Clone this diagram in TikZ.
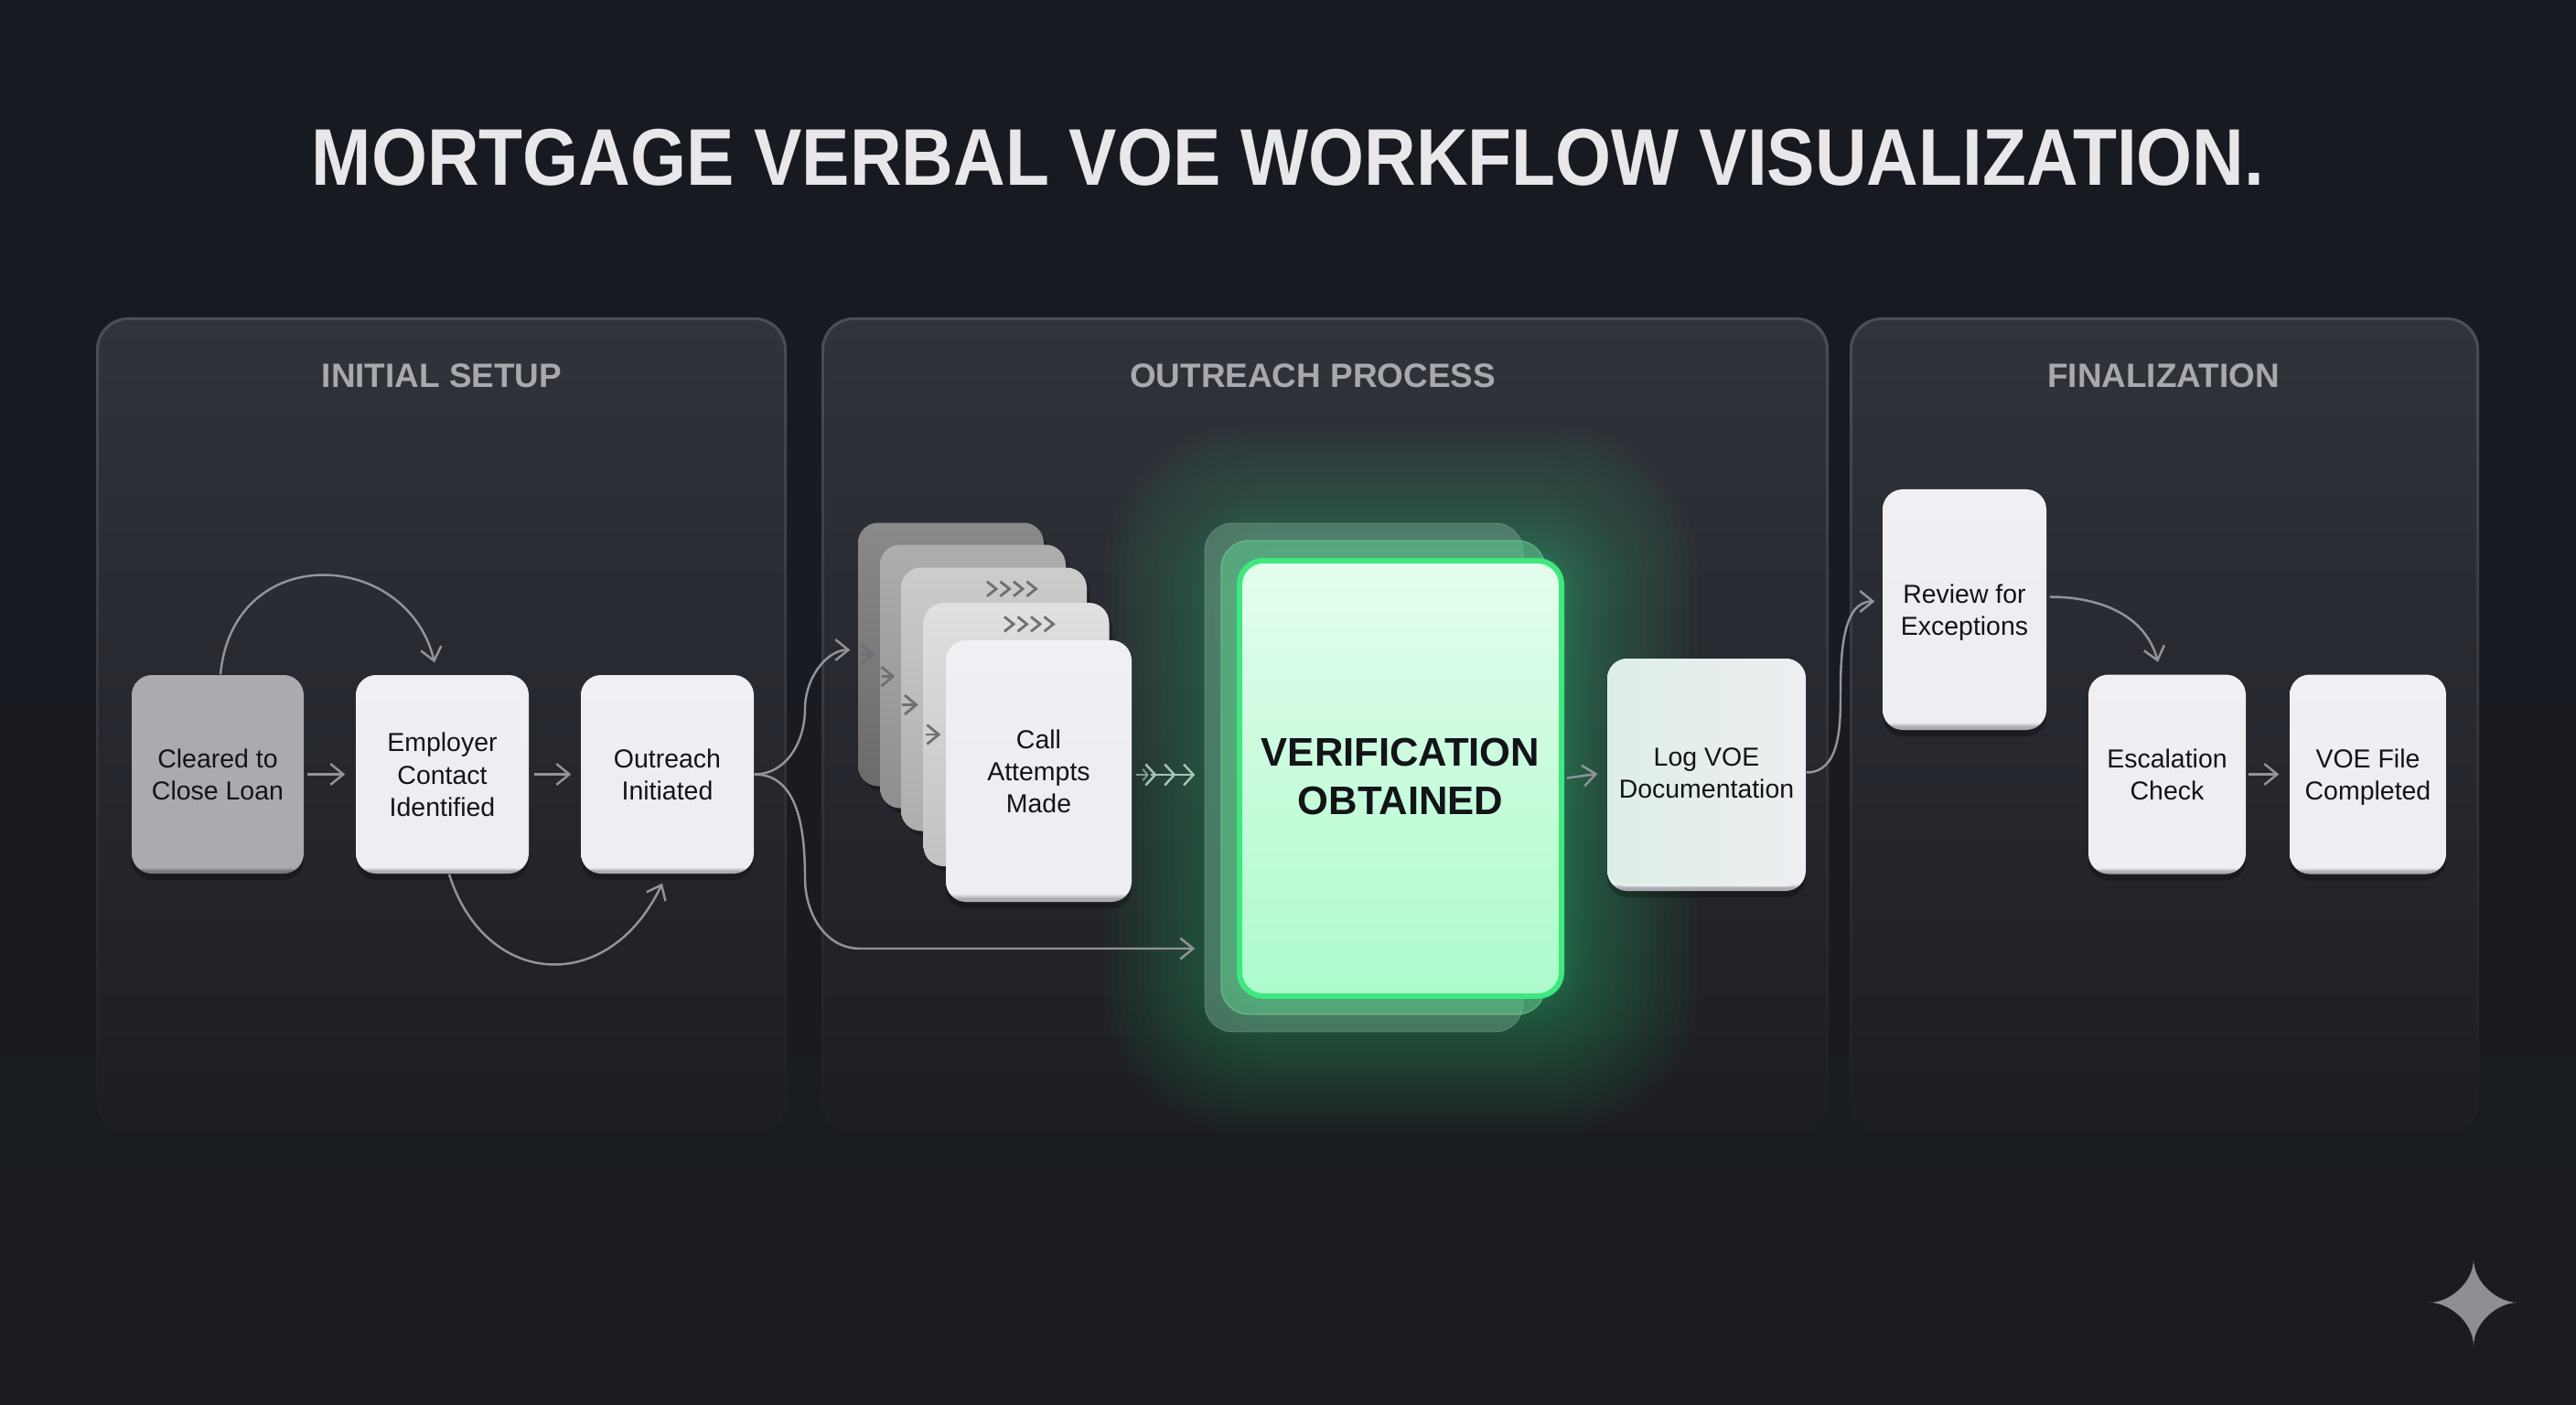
\documentclass[tikz,border=0pt]{standalone}
\usepackage{fontspec}
\setmainfont{Liberation Sans}
\usepackage{xcolor}
\usepackage{graphicx}
\usepackage{tikz}
\usetikzlibrary{arrows.meta,shadows}
\definecolor{voe@bgtop}{RGB}{23, 26, 33}
\definecolor{voe@bgend}{RGB}{26, 28, 33}
\definecolor{voe@edge}{RGB}{76, 78, 85}
\definecolor{voe@paneltop}{RGB}{49, 51, 59}
\definecolor{voe@panelend}{RGB}{28, 30, 35}
\definecolor{voe@head}{RGB}{168, 169, 173}
\definecolor{voe@title}{RGB}{232, 232, 234}
\definecolor{voe@ink}{RGB}{18, 20, 24}
\definecolor{voe@line}{RGB}{146, 148, 153}
\definecolor{voe@dark}{RGB}{110, 111, 117}
\definecolor{voe@green}{RGB}{62, 232, 126}
\definecolor{voe@glow}{RGB}{70, 210, 130}
\definecolor{voe@vtop}{RGB}{228, 253, 238}
\definecolor{voe@vend}{RGB}{172, 251, 203}
\definecolor{voe@chev}{RGB}{168, 196, 180}
\definecolor{voe@star}{RGB}{142, 143, 148}
\definecolor{voe@cardtop}{RGB}{240, 240, 244}
\definecolor{voe@cardmid}{RGB}{237, 238, 241}
\definecolor{voe@bevel}{RGB}{170, 172, 176}
\definecolor{voe@grey}{RGB}{170, 171, 175}
\definecolor{voe@greyend}{RGB}{118, 120, 124}
\definecolor{voe@logleft}{RGB}{222, 238, 231}
\pgfdeclareverticalshading{cardshade}{100bp}{color(0bp)=(voe@bevel); color(25bp)=(voe@bevel);
  color(25.7bp)=(voe@bevel); color(26.6bp)=(voe@cardmid); color(50bp)=(voe@cardmid); color(75bp)=(voe@cardtop); color(100bp)=(voe@cardtop)}
\pgfdeclareverticalshading{clearshade}{100bp}{color(0bp)=(voe@greyend); color(25bp)=(voe@greyend);
  color(25.7bp)=(voe@greyend); color(26.6bp)=(voe@grey); color(50bp)=(voe@grey); color(75bp)=(voe@grey); color(100bp)=(voe@grey)}
\newcommand{\voetop}{\rule{0pt}{8pt}}

\begin{document}
\begin{tikzpicture}[
  panel/.style  = {rectangle, rounded corners=0.35cm, inner sep=0pt, top color=voe@edge, bottom color=voe@panelend},
  inpanel/.style= {rectangle, rounded corners=0.33cm, inner sep=0pt, top color=voe@paneltop, bottom color=voe@panelend},
  head/.style   = {font=\fontsize{10.5}{13}\selectfont\bfseries, text=voe@head, inner sep=0pt},
  cardtext/.style = {align=center, font=\fontsize{8.1}{10}\selectfont, text=voe@ink, inner sep=0pt,
                   execute at end node={\rule[-2pt]{0pt}{2pt}}},
  card/.style   = {rectangle, rounded corners=0.22cm, shade, shading=cardshade, cardtext,
                   drop shadow={shadow xshift=0pt, shadow yshift=-2pt, opacity=0.25, fill=black}},
  stackc/.style = {rectangle, rounded corners=0.22cm, inner sep=0pt,
                   minimum width=2.03cm, minimum height=2.88cm,
                   drop shadow={shadow xshift=1pt, shadow yshift=-1.5pt, opacity=0.25, fill=black}},
  arr/.style    = {-{Straight Barb[length=4pt,width=6.5pt]}, voe@line, line width=0.7pt},
  darr/.style   = {-{Straight Barb[length=3.6pt,width=6pt]}, voe@dark, line width=0.8pt},
  chev/.style   = {voe@dark, line width=0.8pt},
]
  \useasboundingbox (0,0) rectangle (28.16,-15.36);
  \shade[top color=voe@bgtop, bottom color=voe@bgend] (0,0) rectangle (28.16,-15.36);

  \node[font=\fontsize{25}{30}\selectfont\bfseries, text=voe@title, inner sep=0pt] (title) at (14.08,-1.72)
       {\scalebox{0.893}[1]{MORTGAGE VERBAL VOE WORKFLOW VISUALIZATION.}};

  \node[panel, minimum width=7.55cm, minimum height=8.92cm]  (initial)  at (4.825,-7.93) {};
  \node[inpanel, minimum width=7.49cm, minimum height=8.86cm] (initiali) at (initial) {};
  \node[panel, minimum width=11.01cm, minimum height=8.92cm] (reach)    at (14.485,-7.93) {};
  \node[inpanel, minimum width=10.95cm, minimum height=8.86cm] (reachi) at (reach) {};
  \node[panel, minimum width=6.88cm, minimum height=8.92cm]  (final)    at (23.66,-7.93) {};
  \node[inpanel, minimum width=6.82cm, minimum height=8.86cm] (finali)  at (final) {};

  \node[head] (initialh) at (4.83,-4.11)  {INITIAL SETUP};
  \node[head] (reachh)   at (14.35,-4.11) {OUTREACH PROCESS};
  \node[head] (finalh)   at (23.65,-4.11) {FINALIZATION};

  % green halo
  \foreach \g in {30,...,1} {
    \pgfmathsetmacro{\gx}{1.79+1.45*(\g/30)^1.6}
    \pgfmathsetmacro{\gy}{2.41+1.45*(\g/30)^1.6}
    \pgfmathsetmacro{\gr}{0.25+1.3*(\g/30)}
    \fill[voe@glow, opacity=0.018, rounded corners=\gr cm]
      (15.31-\gx,-8.51+\gy) rectangle (15.31+\gx,-8.51-\gy);
  }

  \node[card, minimum width=1.88cm, minimum height=2.17cm, shading=clearshade] (clear) at (2.38,-8.465) {\voetop Cleared to\\Close Loan};
  \node[card, minimum width=1.89cm, minimum height=2.17cm] (employer) at (4.835,-8.465) {\voetop Employer\\Contact\\Identified};
  \node[card, minimum width=1.89cm, minimum height=2.17cm] (outreach) at (7.295,-8.465) {\voetop Outreach\\Initiated};

  \node[stackc, top color=black!46, bottom color=black!58] (call1) at (10.395,-7.155) {};
  \node[stackc, top color=black!32, bottom color=black!44] (call2) at (10.635,-7.395) {};
  \node[stackc, top color=black!20, bottom color=black!32] (call3) at (10.865,-7.645) {};
  \node[stackc, top color=black!12, bottom color=black!24] (call4) at (11.11,-8.03) {};

  \foreach \i in {0,...,3} {
    \draw[chev] ([shift={(\i*0.145-0.075,-0.16)}]call3.north) -- ++(0.1,-0.08) -- ++(-0.1,-0.08);
    \draw[chev] ([shift={(\i*0.145-0.13,-0.16)}]call4.north)  -- ++(0.1,-0.08) -- ++(-0.1,-0.08);
  }
  \node[card, minimum width=2.03cm, minimum height=2.86cm] (call) at (11.355,-8.43) {\voetop Call\\Attempts\\Made};

  \draw[darr] ([xshift=0.04cm]call1.west) -- ([xshift=-0.05cm]call1.west -| call2.west);
  \draw[darr] ([xshift=0.03cm]call2.west) -- ([xshift=-0.06cm]call2.west -| call3.west);
  \draw[darr] ([xshift=0.02cm,yshift=-0.06cm]call3.west) -- ([xshift=-0.05cm,yshift=-0.06cm]call3.west -| call4.west);
  \draw[darr] ([xshift=0.03cm]call4.west) -- ([xshift=-0.05cm]call4.west -| call.west);

  \node[rectangle, rounded corners=0.3cm, fill=voe@glow!35!voe@line, opacity=0.45, draw=white, draw opacity=0.12,
        minimum width=3.48cm, minimum height=5.56cm] (vback) at (14.91,-8.5) {};
  \node[rectangle, rounded corners=0.3cm, fill=voe@glow!70!voe@line, opacity=0.6, draw=voe@glow!50!white, draw opacity=0.35,
        minimum width=3.54cm, minimum height=5.18cm] (vmid) at (15.12,-8.5) {};
  \node[rectangle, rounded corners=0.26cm, top color=voe@vtop, bottom color=voe@vend,
        draw=voe@green, line width=1.7pt, align=center, text=voe@ink,
        font=\fontsize{12.4}{15.1}\selectfont\bfseries, execute at end node={\rule[-1pt]{0pt}{1pt}},
        minimum width=3.52cm, minimum height=4.76cm] (verif) at (15.31,-8.51) {VERIFICATION\\OBTAINED};

  \node[card, minimum width=2.17cm, minimum height=2.54cm] (logb) at (18.655,-8.47) {};
  \node[rectangle, rounded corners=0.22cm, left color=voe@logleft, right color=voe@cardmid, cardtext,
        minimum width=2.17cm, minimum height=2.49cm] (log) at (18.655,-8.445) {\voetop Log VOE\\Documentation};

  \node[card, minimum width=1.79cm, minimum height=2.63cm] (review) at (21.475,-6.665) {\voetop Review for\\Exceptions};
  \node[card, minimum width=1.72cm, minimum height=2.18cm] (escal)  at (23.69,-8.465)  {\voetop Escalation\\Check};
  \node[card, minimum width=1.71cm, minimum height=2.18cm] (file)   at (25.885,-8.465) {\voetop VOE File\\Completed};

  \draw[arr] (clear.east) -- (employer.west) [shorten <=0.03cm, shorten >=0.11cm];
  \draw[arr] (employer.east) -- (outreach.west) [shorten <=0.05cm, shorten >=0.1cm];
  \draw[arr] ([xshift=0.03cm]clear.north) .. controls (2.55,-5.9) and (4.45,-6.0) .. ([xshift=-0.085cm,yshift=0.13cm]employer.north);
  \draw[arr] ([xshift=0.075cm]employer.south) .. controls (5.3,-10.8) and (6.65,-10.9) .. ([xshift=-0.055cm,yshift=-0.1cm]outreach.south);

  \draw[arr, shorten >=0.08cm] (outreach.east) to[out=0,in=-90] (8.8,-7.75) to[out=90,in=180] ([yshift=0.05cm]call1.west);
  \draw[arr] (outreach.east) to[out=0,in=90] (8.8,-9.6) to[out=-90,in=180] (9.4,-10.37) -- ([xshift=-0.1cm,yshift=-1.87cm]vback.west);

  \coordinate (chevfrom) at ([xshift=0.18cm,yshift=0.04cm]call.east |- verif.west);
  \draw[voe@chev, opacity=0.7, line width=0.5pt, -{Straight Barb[length=1.5pt,width=3.5pt]}]
       ([xshift=0.04cm,yshift=0.04cm]call.east |- verif.west) -- (chevfrom);
  \draw[voe@chev, line width=0.7pt, -{Straight Barb[length=3pt,width=6.5pt,sep=2.1pt]Straight Barb[length=3pt,width=6.5pt,sep=2.1pt]Straight Barb[length=3pt,width=6.5pt]}]
       ([xshift=0.02cm]chevfrom) -- ([xshift=-0.1cm,yshift=0.04cm]verif.west -| vback.west);

  \draw[arr] (verif.east) -- (log.west) [shorten <=0.03cm, shorten >=0.1cm];
  \draw[arr, shorten >=0.08cm] (log.east) to[out=0,in=-90] (20.12,-7.6) to[out=90,in=180] ([yshift=0.09cm]review.west);
  \draw[arr] ([yshift=0.14cm,xshift=0.03cm]review.east) to[out=0,in=105] ([xshift=-0.1cm,yshift=0.13cm]escal.north);
  \draw[arr] (escal.east) -- (file.west) [shorten <=0.02cm, shorten >=0.11cm];

  % star mark
  \fill[voe@star] (27.04,-13.76) .. controls (27.04,-14.03) and (27.31,-14.24) .. (27.52,-14.24)
    .. controls (27.31,-14.24) and (27.04,-14.45) .. (27.04,-14.72)
    .. controls (27.04,-14.45) and (26.77,-14.24) .. (26.56,-14.24)
    .. controls (26.77,-14.24) and (27.04,-14.03) .. (27.04,-13.76) -- cycle;
\end{tikzpicture}
\end{document}
